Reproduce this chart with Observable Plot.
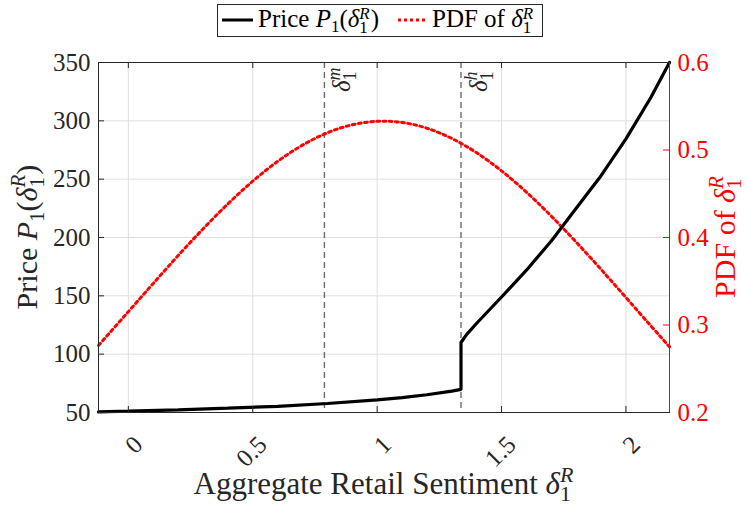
<!DOCTYPE html>
<html>
<head>
<meta charset="utf-8">
<script src="https://cdn.jsdelivr.net/npm/d3@7"></script>
<script src="https://cdn.jsdelivr.net/npm/@observablehq/plot@0.6"></script>
<style>
  html,body{margin:0;padding:0;background:#fff;}
  body{color:#262626;}
  #legend{position:relative;width:747px;height:42px;}
  #legend .box{position:absolute;left:217px;top:4px;width:324px;height:31px;border:1px solid #262626;background:#fff;}
  #legend .item{position:absolute;top:-2px;height:31px;line-height:31px;font-size:25px;white-space:nowrap;color:#000;}
  #legend svg.sw{position:absolute;top:12px;}
  .ss{position:relative;display:inline-block;width:0.46em;height:0;}
  .ss .sp{position:absolute;left:0;top:-22px;font-size:17px;line-height:1;font-style:italic;}
  .ss .sb{position:absolute;left:0;top:-8px;font-size:17px;line-height:1;}
  .sub{font-size:17px;position:relative;top:5px;}
</style>
</head>
<body>
<div id="legend">
  <div class="box">
    <svg class="sw" style="left:4px" width="31" height="6"><line x1="0" x2="31" y1="3" y2="3" stroke="#000" stroke-width="3"/></svg>
    <div class="item" style="left:40px">Price <i>P</i><span class="sub">1</span>(<i>δ</i><span class="ss"><span class="sp">R</span><span class="sb">1</span></span>)</div>
    <svg class="sw" style="left:180px" width="29" height="6"><line x1="0" x2="29" y1="3" y2="3" stroke="#ff0000" stroke-width="3" stroke-dasharray="3,3"/></svg>
    <div class="item" style="left:214px">PDF of <i>δ</i><span class="ss"><span class="sp">R</span><span class="sb">1</span></span></div>
  </div>
</div>
<div id="chart"></div>
<script>
// ---- data ----
const xTicks = [0, 0.5, 1, 1.5, 2];
const priceTicks = [50, 100, 150, 200, 250, 300, 350];
const pdfTicks = [0.2, 0.3, 0.4, 0.5, 0.6];
const xDomain = [-0.12, 2.175];
const thresholds = [0.788, 1.337];
const thresholdNames = ["m", "h"];

const sentiment = [-0.12, 0, 0.2, 0.4, 0.6, 0.8, 1.0, 1.1, 1.2, 1.3, 1.337, 1.337, 1.36, 1.4, 1.5, 1.6, 1.7, 1.8, 1.9, 2.0, 2.1, 2.175];
const price     = [50.5, 51.1, 52.3, 53.7, 55.3, 57.7, 60.8, 62.8, 65.2, 68.3, 69.8, 110, 117, 126.5, 149, 172, 197, 225, 253, 284.5, 320, 350];

const pdfX = [-0.12, 0, 0.1, 0.2, 0.3, 0.4, 0.5, 0.6, 0.7, 0.8, 0.9, 1.0, 1.1, 1.2, 1.3, 1.4, 1.5, 1.6, 1.7, 1.8, 1.9, 2.0, 2.1, 2.175];
const pdfY = [0.2767, 0.3152, 0.3475, 0.3793, 0.4098, 0.4384, 0.4644, 0.4870, 0.5056, 0.5197, 0.5288, 0.5328, 0.5315, 0.5249, 0.5132, 0.4968, 0.4761, 0.4518, 0.4244, 0.3947, 0.3635, 0.3314, 0.2991, 0.2751];

// ---- font detection (pick an installed serif) ----
function pickFont(cands, fallback) {
  const c = document.createElement("canvas").getContext("2d");
  const s = "Aggregate Retail Sentiment 0123456789 PDF";
  for (const f of cands) {
    for (const base of ["monospace", "sans-serif", "cursive"]) {
      c.font = `30px ${base}`; const w0 = c.measureText(s).width;
      c.font = `30px "${f}", ${base}`; const w1 = c.measureText(s).width;
      if (Math.abs(w1 - w0) > 0.5) return `"${f}", serif`;
    }
  }
  return fallback;
}
const font = pickFont(["Liberation Serif", "Tinos", "Times New Roman", "DejaVu Serif", "Noto Serif", "FreeSerif", "Nimbus Roman"], "serif");
document.body.style.fontFamily = font;

// ---- setup ----
const pdfToPrice = d3.scaleLinear().domain([0.2, 0.6]).range([50, 350]);
const priceRows = sentiment.map((x, i) => ({x, y: price[i]}));
const pdfRows = pdfX.map((x, i) => ({x, y: pdfToPrice(pdfY[i])}));

const W = 747, H = 464, mT = 20, mB = 94, mL = 98, mR = 78;
const fw = W - mL - mR, fh = H - mT - mB;
const ink = "#262626", red = "#ff0000";

const plot = Plot.plot({
  width: W, height: H, marginTop: mT, marginBottom: mB, marginLeft: mL, marginRight: mR,
  x: {domain: xDomain, axis: null},
  y: {domain: [50, 350]},
  style: {fontFamily: font, fontSize: "25px", color: ink, background: "#fff", overflow: "visible"},
  marks: [
    Plot.gridX(xTicks, {stroke: "#dfdfdf", strokeOpacity: 1}),
    Plot.gridY(priceTicks, {stroke: "#dfdfdf", strokeOpacity: 1}),
    Plot.ruleX(thresholds, {stroke: "#6b6b6b", strokeWidth: 1.4, strokeDasharray: "6,4"}),
    Plot.line(pdfRows, {x: "x", y: "y", stroke: red, strokeWidth: 3, strokeDasharray: "2.8,3.4", curve: "natural"}),
    Plot.line(priceRows, {x: "x", y: "y", stroke: "#000", strokeWidth: 3.2, strokeLinejoin: "miter"}),
    Plot.tickX(xTicks, {x: d => d, insetTop: fh - 6, stroke: ink}),
    Plot.tickX(xTicks, {x: d => d, insetBottom: fh - 6, stroke: ink}),
    Plot.tickY(priceTicks, {y: d => d, insetRight: fw - 6, stroke: ink}),
    Plot.tickY(pdfTicks, {y: d => pdfToPrice(d), insetLeft: fw - 6, stroke: red}),
    Plot.frame({stroke: ink}),
    Plot.ruleX([xDomain[1]], {stroke: red}),
    Plot.axisY(priceTicks, {anchor: "left", tickSize: 0, tickPadding: 8, label: null, fontSize: 25, fill: ink}),
    Plot.axisY(pdfTicks.map(d => pdfToPrice(d)), {anchor: "right", tickSize: 0, tickPadding: 8, label: null, fontSize: 25, fill: red,
      tickFormat: d => d3.format(".1f")(pdfToPrice.invert(d))}),
    Plot.text(xTicks, {x: d => d, frameAnchor: "bottom", text: d => String(d), rotate: -45, textAnchor: "end", lineAnchor: "middle", dx: 10, dy: 28, fontSize: 25, fill: ink})
  ]
});
document.getElementById("chart").appendChild(plot);

// ---- math-style labels ----
const svg = d3.select(plot);
const sx = plot.scale("x");

function stack(text, sup, sub, small, supDy, subDy) {
  const t1 = text.append("tspan").attr("font-size", small).attr("font-style", "italic").attr("dy", supDy).text(sup);
  const w1 = t1.node().getComputedTextLength();
  const t2 = text.append("tspan").attr("font-size", small).attr("font-style", "normal").attr("dx", -w1).attr("dy", subDy - supDy).text(sub);
  const w2 = t2.node().getComputedTextLength();
  return {dx: Math.max(0, w1 - w2), dy: -subDy};
}

// x label
{
  const t = svg.append("text").attr("x", (mL + W - mR) / 2).attr("y", 452).attr("text-anchor", "middle")
    .attr("font-family", font).attr("font-size", 31).attr("fill", ink);
  t.append("tspan").text("Aggregate Retail Sentiment ");
  t.append("tspan").attr("font-style", "italic").text("δ");
  stack(t, "R", "1", 22, -12, 7);
}
// left y label
{
  const t = svg.append("text").attr("transform", `translate(37,${mT + fh / 2}) rotate(-90)`).attr("text-anchor", "middle")
    .attr("font-family", font).attr("font-size", 30).attr("fill", ink);
  t.append("tspan").text("Price ");
  t.append("tspan").attr("font-style", "italic").text("P");
  t.append("tspan").attr("font-size", 21).attr("dy", 7).text("1");
  t.append("tspan").attr("dy", -7).text("(");
  t.append("tspan").attr("font-style", "italic").text("δ");
  const r = stack(t, "R", "1", 21, -12, 7);
  t.append("tspan").attr("dx", r.dx).attr("dy", r.dy).text(")");
}
// right y label
{
  const t = svg.append("text").attr("transform", `translate(735,${mT + fh / 2}) rotate(-90)`).attr("text-anchor", "middle")
    .attr("font-family", font).attr("font-size", 30).attr("fill", red);
  t.append("tspan").text("PDF of ");
  t.append("tspan").attr("font-style", "italic").text("δ");
  stack(t, "R", "1", 21, -12, 6);
}
// threshold annotations
thresholds.forEach((v, i) => {
  const t = svg.append("text").attr("transform", `translate(${sx.apply(v) + 26},${mT + 30}) rotate(-90)`).attr("text-anchor", "start")
    .attr("font-family", font).attr("font-size", 25).attr("fill", ink);
  t.append("tspan").attr("font-style", "italic").text("δ");
  stack(t, thresholdNames[i], "1", 18, -10, 6);
});
</script>
</body>
</html>
